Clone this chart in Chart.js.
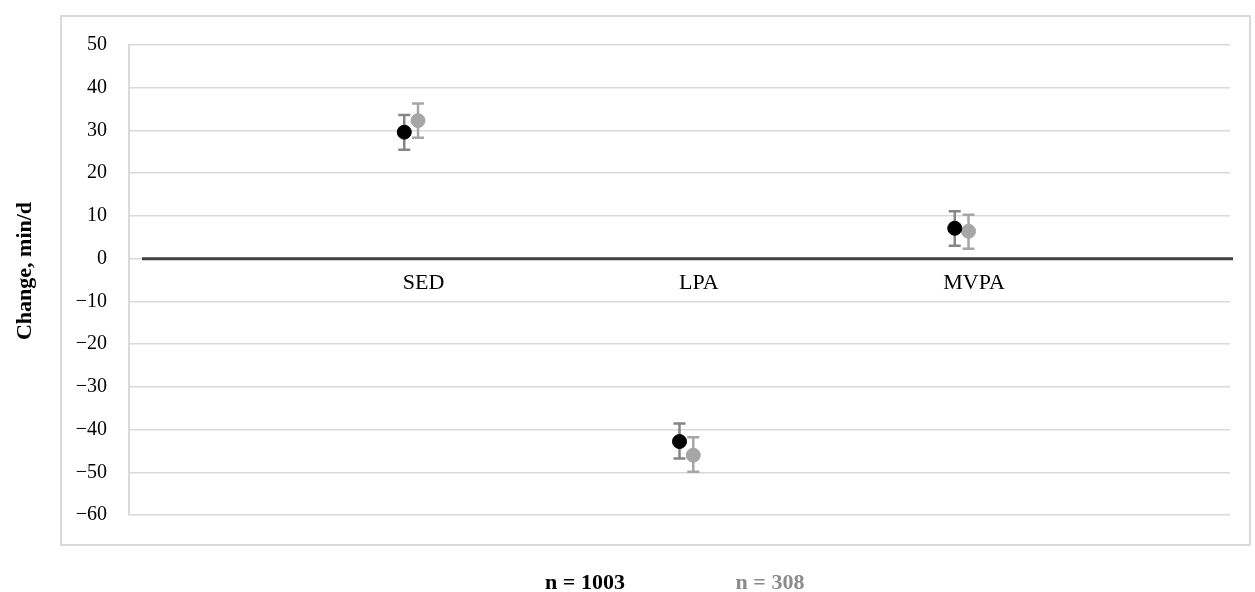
<!DOCTYPE html>
<html><head><meta charset="utf-8">
<script src="https://cdn.jsdelivr.net/npm/chart.js@4.4.1/dist/chart.umd.min.js"></script>
<style>html,body{margin:0;padding:0;background:#fff}#wrap{width:1255px;height:592px}</style>
</head><body><div id="wrap"><canvas id="c" width="1255" height="592"></canvas></div>
<script>
const categories = ["SED", "LPA", "MVPA"];
const seriesNames = ["n = 1003", "n = 308"];
const meansA = [29.6, -42.8, 7.1];
const lowA = [25.5, -46.8, 3.0];
const highA = [33.6, -38.6, 11.1];
const meansB = [32.3, -46.0, 6.4];
const lowB = [28.3, -49.9, 2.3];
const highB = [36.3, -41.8, 10.3];
const yTicks = [50, 40, 30, 20, 10, 0, -10, -20, -30, -40, -50, -60];
const yTitle = "Change, min/d";

const FONT = "'Liberation Serif', 'Times New Roman', serif";
const posA = categories.map((c, i) => i + 1);
const posB = categories.map((c, i) => i + 1.05);

const extras = {
  id: 'extras',
  beforeDraw(chart) {
    const ctx = chart.ctx;
    ctx.save();
    ctx.strokeStyle = '#d9d9d9';
    ctx.lineWidth = 2;
    ctx.strokeRect(61, 16, 1189, 529);
    ctx.restore();
  },
  beforeDatasetsDraw(chart) {
    const ctx = chart.ctx, x = chart.scales.x, y = chart.scales.y, a = chart.chartArea;
    ctx.save();
    ctx.strokeStyle = '#404040';
    ctx.lineWidth = 3;
    ctx.beginPath();
    ctx.moveTo(a.left + 13, y.getPixelForValue(0));
    ctx.lineTo(a.right + 3, y.getPixelForValue(0));
    ctx.stroke();
    ctx.fillStyle = '#000';
    ctx.font = '22px ' + FONT;
    ctx.textAlign = 'center';
    ctx.textBaseline = 'middle';
    categories.forEach((c, i) => {
      ctx.fillText(c, x.getPixelForValue(posA[i] + 0.07), y.getPixelForValue(0) + 25);
    });
    const sets = [[posA, lowA, highA, '#858585'], [posB, lowB, highB, '#a6a6a6']];
    sets.forEach(([pos, lo, hi, col]) => {
      ctx.strokeStyle = col;
      ctx.lineWidth = 2.5;
      pos.forEach((p, i) => {
        const px = x.getPixelForValue(p);
        const y1 = y.getPixelForValue(lo[i]), y2 = y.getPixelForValue(hi[i]);
        ctx.beginPath();
        ctx.moveTo(px, y1); ctx.lineTo(px, y2);
        ctx.moveTo(px - 6, y1); ctx.lineTo(px + 6, y1);
        ctx.moveTo(px - 6, y2); ctx.lineTo(px + 6, y2);
        ctx.stroke();
      });
    });
    ctx.restore();
  },
  afterDraw(chart) {
    const ctx = chart.ctx;
    ctx.save();
    ctx.font = 'bold 22px ' + FONT;
    ctx.textAlign = 'center';
    ctx.textBaseline = 'middle';
    ctx.fillStyle = '#000';
    ctx.fillText(seriesNames[0], 585, 583);
    ctx.fillStyle = '#8c8c8c';
    ctx.fillText(seriesNames[1], 770, 583);
    ctx.translate(25, 271);
    ctx.rotate(-Math.PI / 2);
    ctx.fillStyle = '#000';
    ctx.fillText(yTitle, 0, 0);
    ctx.restore();
  }
};

new Chart(document.getElementById('c'), {
  type: 'scatter',
  data: {
    datasets: [
      { label: seriesNames[0], data: posA.map((p, i) => ({ x: p, y: meansA[i] })),
        backgroundColor: '#000', borderColor: '#000', pointRadius: 7, pointHoverRadius: 7 },
      { label: seriesNames[1], data: posB.map((p, i) => ({ x: p, y: meansB[i] })),
        backgroundColor: '#a6a6a6', borderColor: '#a6a6a6', pointRadius: 7, pointHoverRadius: 7 }
    ]
  },
  options: {
    responsive: false,
    animation: false,
    layout: { padding: { left: 0, top: 45, right: 25, bottom: 77 } },
    plugins: { legend: { display: false }, tooltip: { enabled: false } },
    scales: {
      x: { type: 'linear', min: 0, max: 4, display: false },
      y: {
        type: 'linear', min: -60, max: 50,
        afterFit(s) { s.width = 129; },
        afterBuildTicks(s) { s.ticks = yTicks.map(v => ({ value: v })); },
        grid: { color: '#d9d9d9', lineWidth: 1.5, drawTicks: false },
        border: { color: '#d9d9d9', width: 2 },
        ticks: {
          padding: 22, color: '#000', font: { family: FONT, size: 20 },
          callback: v => (v < 0 ? '\u2212' + Math.abs(v) : String(v))
        },
        title: { display: false }
      }
    }
  },
  plugins: [extras]
});
</script></body></html>
